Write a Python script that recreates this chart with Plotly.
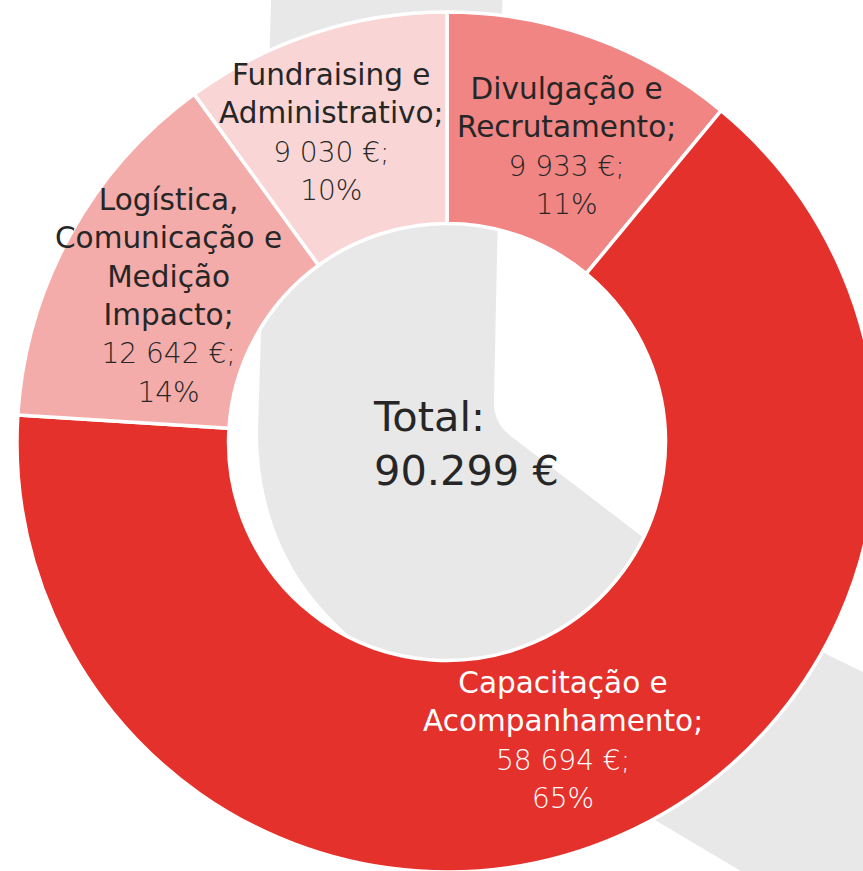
import math
import plotly.graph_objects as go

# Budget breakdown (EUR), drawn clockwise from 12 o'clock
categories = [
    "Divulgação e<br>Recrutamento;",
    "Capacitação e<br>Acompanhamento;",
    "Logística,<br>Comunicação e<br>Medição<br>Impacto;",
    "Fundraising e<br>Administrativo;",
]
values = [9933, 58694, 12642, 9030]
slice_colors = ["#F08583", "#E5312C", "#F4ACAA", "#F9D6D5"]
label_colors = ["#262626", "#FFFFFF", "#262626", "#262626"]
total_title = "Total:"

# Small pixel nudges so neighbouring labels do not collide
label_nudge = [(10, 10), (-13, 1), (6, 10), (-15, -1)]

FONT = "DejaVu Sans"
DARK = "#262626"

# Canvas geometry (pixels)
W, H = 880, 872
ML, MT = 17, 12
SIDE = 860                      # square plotting area -> pie diameter
MR, MB = W - ML - SIDE, H - MT - SIDE
HOLE = 0.508
R = SIDE / 2
CX, CY = ML + R, MT + R


def px_to_paper(x, y):
    return (x - ML) / SIDE, 1 - (y - MT) / SIDE


total = sum(values)

fig = go.Figure()
fig.add_trace(go.Pie(
    labels=[c.replace("<br>", " ") for c in categories],
    values=values,
    sort=False,
    direction="clockwise",
    rotation=0,
    hole=HOLE,
    marker=dict(colors=slice_colors, line=dict(color="white", width=3.5)),
    textinfo="none",
    hoverinfo="skip",
    showlegend=False,
    domain=dict(x=[0, 1], y=[0, 1]),
))

# Slice labels: name, amount and share, placed mid-ring on each slice bisector
annotations = []
r_label = R * (1 + HOLE) / 2
cum = 0
for name, v, col, (nx, ny) in zip(categories, values, label_colors, label_nudge):
    theta = math.radians((cum + v / 2) / total * 360)
    cum += v
    lx = CX + r_label * math.sin(theta) + nx
    ly = CY - r_label * math.cos(theta) + ny
    xp, yp = px_to_paper(lx, ly)
    amount = f"{v:,}".replace(",", " ")
    pct = round(v / total * 100)
    txt = (f"{name}<br><span style='font-size:28px;font-weight:300'>{amount} €;</span>"
           f"<br><span style='font-size:28px;font-weight:300'>{pct}%</span>")
    annotations.append(dict(
        x=xp, y=yp, xref="paper", yref="paper", text=txt, showarrow=False,
        xanchor="center", yanchor="middle", align="center",
        font=dict(family=FONT, size=29.5, color=col),
    ))

# Centre total
tx, ty = px_to_paper(371, 443)
total_txt = f"{total:,}".replace(",", ".")
annotations.append(dict(
    x=tx, y=ty, xref="paper", yref="paper",
    text=f"{total_title}<br>{total_txt} €", showarrow=False,
    xanchor="left", yanchor="middle", align="left",
    font=dict(family=FONT, size=41.5, color=DARK),
))

# Decorative grey band behind the ring
def P(x, y):
    a, b = px_to_paper(x, y)
    return f"{a:.5f},{b:.5f}"

band = (
    f"M {P(272, -30)} L {P(262, 300)} L {P(258, 430)} "
    f"C {P(258, 560)} {P(330, 635)} {P(420, 684)} "
    f"L {P(660, 823)} L {P(840, 930)} L {P(960, 930)} L {P(960, 715)} "
    f"L {P(863, 672)} L {P(828, 655)} Q {P(730, 600)} {P(640, 535)} "
    f"L {P(512, 437)} Q {P(493, 424)} {P(494, 400)} L {P(503, -30)} Z"
)
shapes = [dict(type="path", path=band, xref="paper", yref="paper",
               fillcolor="#E8E8E8", line=dict(width=0), layer="below")]

fig.update_layout(
    width=W, height=H,
    margin=dict(l=ML, r=MR, t=MT, b=MB, pad=0),
    paper_bgcolor="white", plot_bgcolor="white",
    annotations=annotations, shapes=shapes,
    showlegend=False,
)

fig.write_html(
    "out.html",
    post_script=("document.documentElement.style.overflow='hidden';"
                 "document.body.style.overflow='hidden';"
                 "document.body.style.margin='0';"),
)
